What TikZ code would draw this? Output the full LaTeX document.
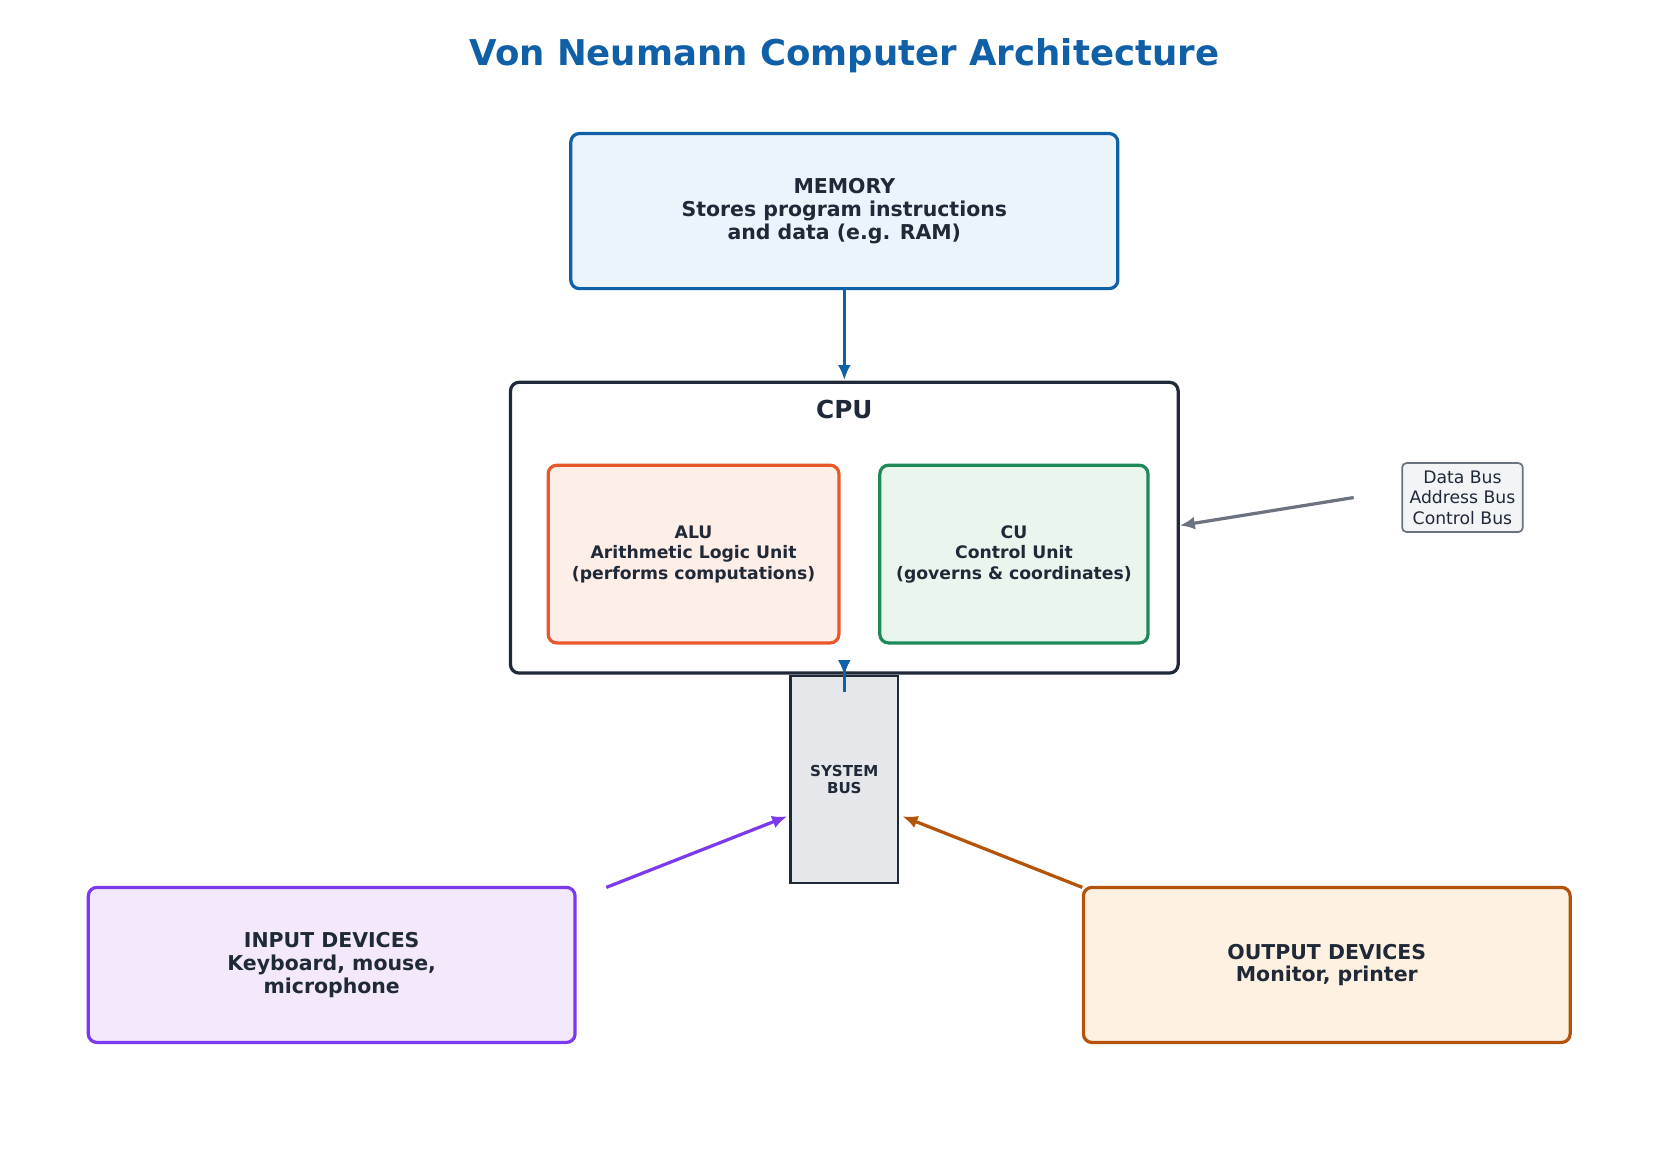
\documentclass[tikz,border=0pt]{standalone}
\usepackage{fontspec}
\setmainfont{DejaVu Sans}
\usetikzlibrary{arrows.meta,positioning}
\definecolor{memblue}{HTML}{1060A8}
\definecolor{memfill}{HTML}{EBF3FC}
\definecolor{ink}{HTML}{1F2937}
\definecolor{aluline}{HTML}{E8582A}
\definecolor{alufill}{HTML}{FDEEE8}
\definecolor{culine}{HTML}{1E8A5A}
\definecolor{cufill}{HTML}{E9F6EE}
\definecolor{busfill}{HTML}{E5E7EB}
\definecolor{notegray}{HTML}{6B7280}
\definecolor{notefill}{HTML}{F3F4F6}
\definecolor{inline}{HTML}{7C3AED}
\definecolor{infill}{HTML}{F3E8FC}
\definecolor{outline}{HTML}{B45309}
\definecolor{outfill}{HTML}{FEF1E2}
\tikzset{
  unit/.style={draw, rounded corners=4pt, line width=1.5pt, align=center,
    font=\bfseries\fontsize{9.5}{10.5}\selectfont, text=ink, inner sep=0pt},
  subunit/.style={unit, font=\bfseries\fontsize{8}{9.5}\selectfont},
  link/.style={line width=1.5pt, -{Latex[length=7pt,width=6pt]}},
}
\begin{document}
\begin{tikzpicture}[x=0.5pt,y=-0.5pt]

  % frame
  \useasboundingbox (0,0) rectangle (1560,1072.5);

  % title
  \node[font=\bfseries\fontsize{16.5}{18}\selectfont, text=memblue] (title) at (784,52)
    {Von Neumann Computer Architecture};

  % memory
  \node[unit, draw=memblue, fill=memfill, minimum width=254pt, minimum height=72pt] (mem) at (784,196)
    {MEMORY\\Stores program instructions\\and data (e.g. RAM)};

  % cpu
  \node[unit, draw=ink, minimum width=310pt, minimum height=135pt] (cpu) at (784,490) {};
  \node[font=\bfseries\fontsize{11.5}{13}\selectfont, text=ink] (cpulabel) at (784,380) {CPU};
  \node[subunit, draw=aluline, fill=alufill, minimum width=135pt, minimum height=82.5pt] (alu) at (644,514.5)
    {ALU\\Arithmetic Logic Unit\\(performs computations)};
  \node[subunit, draw=culine, fill=cufill, minimum width=124.5pt, minimum height=82.5pt] (cu) at (941.5,514.5)
    {CU\\Control Unit\\(governs \& coordinates)};

  % bus
  \node[draw=ink, fill=busfill, line width=1pt, minimum width=50pt, minimum height=96pt, inner sep=0pt,
    align=center, font=\bfseries\fontsize{7}{8}\selectfont, text=ink] (bus) at (784,724) {SYSTEM\\BUS};

  % note
  \node[draw=notegray, fill=notefill, rounded corners=2pt, line width=0.8pt, align=center,
    font=\fontsize{8}{9.5}\selectfont, text=ink, minimum width=56pt, minimum height=32pt, inner sep=1pt] (note) at (1358,462)
    {Data Bus\\Address Bus\\Control Bus};

  % devices
  \node[unit, draw=inline, fill=infill, minimum width=226pt, minimum height=72pt] (in) at (308,896)
    {INPUT DEVICES\\Keyboard, mouse,\\microphone};
  \node[unit, draw=outline, fill=outfill, minimum width=226pt, minimum height=72pt] (out) at (1232,896)
    {OUTPUT DEVICES\\Monitor, printer};

  % connectors
  \coordinate (notetail) at (1257,462);
  \coordinate (intail) at (563,824);
  \coordinate (outtail) at (1005,824);
  \draw[link, memblue] (mem.south) -- (784,353);
  \draw[link, memblue, shorten <=-8pt] (cpu.south) -- (bus.north);
  \draw[link, notegray] (notetail) -- (cpu.east |- 0,488);
  \draw[link, inline] (intail) -- (731,758);
  \draw[link, outline] (outtail) -- (838,758);
\end{tikzpicture}
\end{document}
